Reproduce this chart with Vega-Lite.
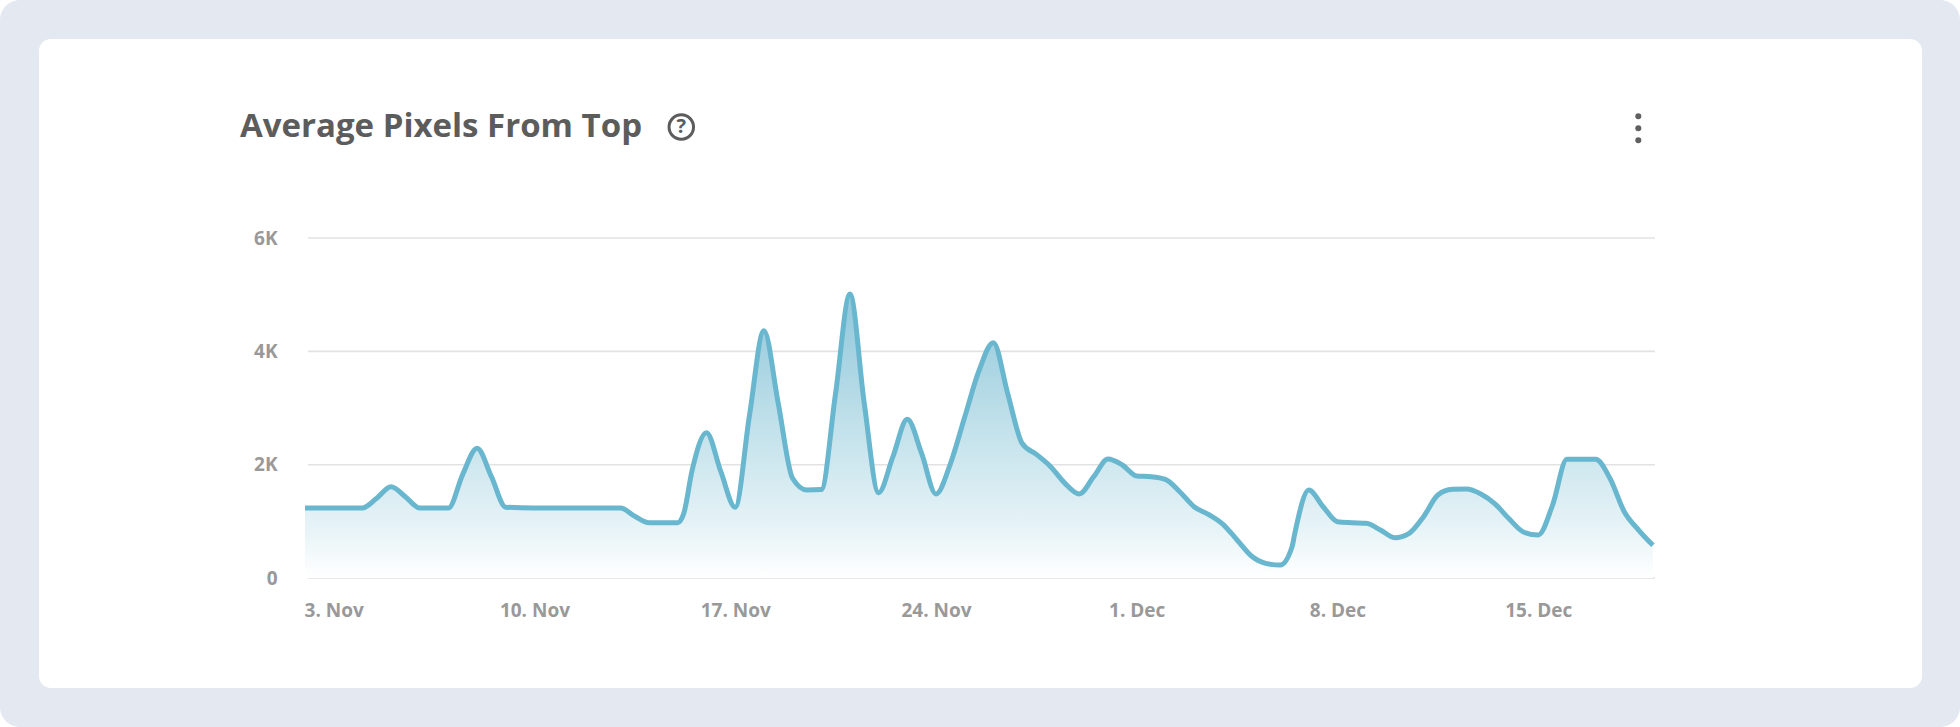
{
"$schema":"https://vega.github.io/schema/vega-lite/v6.json",
"width":1960,"height":727,"padding":0,
"autosize":{"type":"fit","contains":"padding"},
"background":"#ffffff",
"view":{"fill":"#e4e8f0","cornerRadius":20,"stroke":null},
"config":{"font":"Open Sans"},
"resolve":{"axis":{"x":"independent","y":"independent"}},
"datasets":{
"series":[
{"date":"2019-11-02T00:00:00Z","value":1235},{"date":"2019-11-03T00:00:00Z","value":1235},{"date":"2019-11-04T00:00:00Z","value":1235},{"date":"2019-11-04T12:00:00Z","value":1407},{"date":"2019-11-05T00:00:00Z","value":1612},{"date":"2019-11-05T12:00:00Z","value":1435},{"date":"2019-11-06T00:00:00Z","value":1235},{"date":"2019-11-07T00:00:00Z","value":1235},{"date":"2019-11-07T12:00:00Z","value":1830},{"date":"2019-11-08T00:00:00Z","value":2292},{"date":"2019-11-08T12:00:00Z","value":1788},{"date":"2019-11-09T00:00:00Z","value":1250},{"date":"2019-11-10T00:00:00Z","value":1235},{"date":"2019-11-11T00:00:00Z","value":1235},{"date":"2019-11-12T00:00:00Z","value":1235},{"date":"2019-11-13T00:00:00Z","value":1235},{"date":"2019-11-13T12:00:00Z","value":1090},{"date":"2019-11-14T00:00:00Z","value":976},{"date":"2019-11-15T00:00:00Z","value":976},{"date":"2019-11-15T05:00:00Z","value":1142},{"date":"2019-11-15T12:00:00Z","value":1906},{"date":"2019-11-16T00:00:00Z","value":2565},{"date":"2019-11-16T12:00:00Z","value":1876},{"date":"2019-11-17T00:00:00Z","value":1248},{"date":"2019-11-17T12:00:00Z","value":2877},{"date":"2019-11-18T00:00:00Z","value":4365},{"date":"2019-11-18T12:00:00Z","value":3083},{"date":"2019-11-19T00:00:00Z","value":1760},{"date":"2019-11-19T12:00:00Z","value":1553},{"date":"2019-11-20T00:00:00Z","value":1560},{"date":"2019-11-20T12:00:00Z","value":3259},{"date":"2019-11-21T00:00:00Z","value":5012},{"date":"2019-11-21T12:00:00Z","value":3083},{"date":"2019-11-22T00:00:00Z","value":1506},{"date":"2019-11-22T12:00:00Z","value":2141},{"date":"2019-11-23T00:00:00Z","value":2800},{"date":"2019-11-23T12:00:00Z","value":2200},{"date":"2019-11-24T00:00:00Z","value":1483},{"date":"2019-11-24T12:00:00Z","value":2012},{"date":"2019-11-25T00:00:00Z","value":2836},{"date":"2019-11-25T12:00:00Z","value":3659},{"date":"2019-11-26T00:00:00Z","value":4153},{"date":"2019-11-26T12:00:00Z","value":3259},{"date":"2019-11-27T00:00:00Z","value":2382},{"date":"2019-11-27T12:00:00Z","value":2183},{"date":"2019-11-28T00:00:00Z","value":1965},{"date":"2019-11-28T12:00:00Z","value":1671},{"date":"2019-11-29T00:00:00Z","value":1483},{"date":"2019-11-29T12:00:00Z","value":1788},{"date":"2019-11-30T00:00:00Z","value":2100},{"date":"2019-11-30T12:00:00Z","value":1994},{"date":"2019-12-01T00:00:00Z","value":1800},{"date":"2019-12-01T12:00:00Z","value":1788},{"date":"2019-12-02T00:00:00Z","value":1741},{"date":"2019-12-02T12:00:00Z","value":1523},{"date":"2019-12-03T00:00:00Z","value":1259},{"date":"2019-12-03T12:00:00Z","value":1124},{"date":"2019-12-04T00:00:00Z","value":953},{"date":"2019-12-04T12:00:00Z","value":671},{"date":"2019-12-05T00:00:00Z","value":388},{"date":"2019-12-05T12:00:00Z","value":259},{"date":"2019-12-06T00:00:00Z","value":229},{"date":"2019-12-06T10:00:00Z","value":552},{"date":"2019-12-06T12:00:00Z","value":759},{"date":"2019-12-07T00:00:00Z","value":1553},{"date":"2019-12-07T12:00:00Z","value":1258},{"date":"2019-12-08T00:00:00Z","value":994},{"date":"2019-12-08T12:00:00Z","value":976},{"date":"2019-12-09T00:00:00Z","value":965},{"date":"2019-12-09T12:00:00Z","value":847},{"date":"2019-12-10T00:00:00Z","value":712},{"date":"2019-12-10T12:00:00Z","value":789},{"date":"2019-12-11T00:00:00Z","value":1082},{"date":"2019-12-11T12:00:00Z","value":1465},{"date":"2019-12-12T00:00:00Z","value":1565},{"date":"2019-12-12T12:00:00Z","value":1570},{"date":"2019-12-13T00:00:00Z","value":1483},{"date":"2019-12-13T12:00:00Z","value":1306},{"date":"2019-12-14T00:00:00Z","value":1036},{"date":"2019-12-14T12:00:00Z","value":807},{"date":"2019-12-15T00:00:00Z","value":759},{"date":"2019-12-15T12:00:00Z","value":1288},{"date":"2019-12-16T00:00:00Z","value":2095},{"date":"2019-12-16T12:00:00Z","value":2095},{"date":"2019-12-17T00:00:00Z","value":2095},{"date":"2019-12-17T12:00:00Z","value":1760},{"date":"2019-12-18T00:00:00Z","value":1170},{"date":"2019-12-18T12:00:00Z","value":847},{"date":"2019-12-19T00:00:00Z","value":577}
],
"grid":[{"tick":0},{"tick":2000},{"tick":4000},{"tick":6000}],
"menu":[{"level":8147},{"level":7936},{"level":7724}]
},
"layer":[
{"mark":{"type":"rect","fill":"#ffffff","cornerRadius":12},
 "data":{"values":[{}]},
 "encoding":{
  "x":{"datum":1571851461000,"type":"temporal","axis":null,
   "scale":{"type":"utc","domain":[1571733972000,1577638574000]}},
  "x2":{"datum":1577524097000},
  "y":{"datum":9512,"type":"quantitative","axis":null,"scale":{"domain":[-2629,10200],"nice":false,"zero":false}},
  "y2":{"datum":-1941}}},
{"data":{"name":"grid"},
 "mark":{"type":"rule","stroke":"#e2e2e2","strokeWidth":1.6},
 "encoding":{
  "x":{"datum":1572661838000,"type":"temporal","axis":null},
  "x2":{"datum":1576719746000},
  "y":{"field":"tick","type":"quantitative","axis":null}}},
{"data":{"name":"series"},
 "mark":{"type":"area","interpolate":"monotone","fill":{"gradient":"linear","x1":0,"y1":0,"x2":0,"y2":1,"stops":[{"offset":0,"color":"#8fc7da"},{"offset":0.45,"color":"#c0e0ea"},{"offset":0.82,"color":"#e6f3f7"},{"offset":1,"color":"#ffffff"}]}},
 "encoding":{
  "x":{"field":"date","type":"temporal","title":null,
   "axis":{"values":[1572739200000,1573344000000,1573948800000,1574553600000,1575158400000,1575763200000,1576368000000],"labelExpr":"utcFormat(datum.value,'%-d. %b')","offset":-149,"domain":false,"ticks":false,"grid":false,"labelPadding":23,"labelFont":"Open Sans","labelFontWeight":"bold","labelFontSize":19,"labelColor":"#999999","labelFlush":false,"labelOverlap":false,"zindex":1}},
  "y":{"field":"value","type":"quantitative","title":null,
   "axis":{"values":[0,2000,4000,6000],"labelExpr":"datum.value==0?'0':(datum.value/1000)+'K'","offset":-307,"domain":false,"ticks":false,"grid":false,"labelPadding":30,"labelFont":"Open Sans","labelFontWeight":"bold","labelFontSize":19,"labelColor":"#999999","labelOverlap":false,"zindex":1}},
  "y2":{"datum":0}}},
{"data":{"name":"series"},
 "mark":{"type":"line","interpolate":"monotone","stroke":"#69b6cf","strokeWidth":5,"strokeJoin":"round"},
 "encoding":{
  "x":{"field":"date","type":"temporal","axis":null},
  "y":{"field":"value","type":"quantitative","axis":null}}},
{"data":{"values":[{"label":"Average Pixels From Top"}]},
 "mark":{"type":"text","align":"left","baseline":"alphabetic","font":"Open Sans","fontWeight":"bold","fontSize":33,"fill":"#5c5c5c"},
 "encoding":{
  "x":{"datum":1572456984000,"type":"temporal","axis":null},
  "y":{"datum":7782,"type":"quantitative","axis":null},
  "text":{"field":"label"}}},
{"data":{"values":[{"label":"?"}]},
 "mark":{"type":"point","shape":"circle","size":600,"filled":false,"stroke":"#5c5c5c","strokeWidth":3,"opacity":1},
 "encoding":{
  "x":{"datum":1573786423000,"type":"temporal","axis":null},
  "y":{"datum":7959,"type":"quantitative","axis":null}}},
{"data":{"values":[{"label":"?"}]},
 "mark":{"type":"text","align":"center","baseline":"middle","font":"Open Sans","fontWeight":"bold","fontSize":20,"fill":"#5c5c5c"},
 "encoding":{
  "x":{"datum":1573786423000,"type":"temporal","axis":null},
  "y":{"datum":7959,"type":"quantitative","axis":null},
  "text":{"field":"label"}}},
{"data":{"name":"menu"},
 "mark":{"type":"point","shape":"circle","size":36,"filled":true,"fill":"#5f5f5f","opacity":1},
 "encoding":{
  "x":{"datum":1576669436000,"type":"temporal","axis":null},
  "y":{"field":"level","type":"quantitative","axis":null}}}
]
}
